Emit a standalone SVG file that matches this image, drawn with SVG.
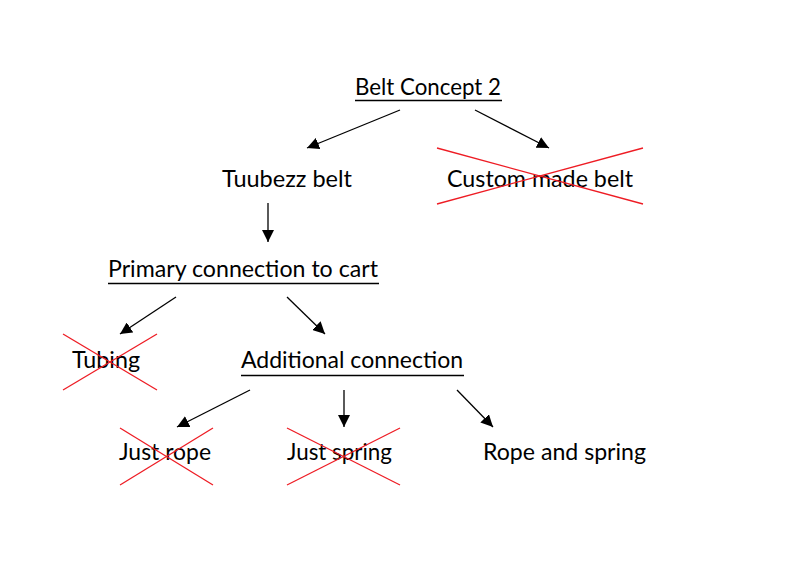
<svg xmlns="http://www.w3.org/2000/svg" width="800" height="571" viewBox="0 0 800 571">
<style>
text{font-family:Lato,"Open Sans","Liberation Sans",sans-serif;font-size:22.5px;fill:#000}
.u{stroke:#000;stroke-width:1.4}
.c{stroke:#000;stroke-width:1.3;fill:none;marker-end:url(#ah)}
.x{stroke:#ee1c24;stroke-width:1.3}
</style>
<defs>
<marker id="ah" viewBox="0 0 12 12" refX="12" refY="6" markerWidth="12" markerHeight="12" markerUnits="userSpaceOnUse" orient="auto">
<path d="M0,0 L12,6 L0,12 z" fill="#000"/>
</marker>
</defs>
<rect width="800" height="571" fill="#fff"/>
<g id="belt-concept-2">
<text x="355" y="95" textLength="146" lengthAdjust="spacingAndGlyphs">Belt Concept 2</text>
<line class="u" x1="355" y1="100.5" x2="502" y2="100.5"/>
</g>
<g id="tuubezz-belt">
<text x="222" y="187" textLength="130" lengthAdjust="spacingAndGlyphs">Tuubezz belt</text>
</g>
<g id="custom-made-belt">
<text x="447" y="187" textLength="186" lengthAdjust="spacingAndGlyphs">Custom made belt</text>
<line class="x" x1="437" y1="148" x2="643" y2="204"/>
<line class="x" x1="437" y1="204" x2="643" y2="148"/>
</g>
<g id="primary-connection">
<text x="108" y="277" textLength="270" lengthAdjust="spacingAndGlyphs">Primary connection to cart</text>
<line class="u" x1="108" y1="283.5" x2="379" y2="283.5"/>
</g>
<g id="tubing">
<text x="72" y="368" textLength="68" lengthAdjust="spacingAndGlyphs">Tubing</text>
<line class="x" x1="63" y1="334" x2="157" y2="390"/>
<line class="x" x1="63" y1="390" x2="157" y2="334"/>
</g>
<g id="additional-connection">
<text x="241" y="368" textLength="222" lengthAdjust="spacingAndGlyphs">Additional connection</text>
<line class="u" x1="241" y1="375.5" x2="464" y2="375.5"/>
</g>
<g id="just-rope">
<text x="119" y="460" textLength="92" lengthAdjust="spacingAndGlyphs">Just rope</text>
<line class="x" x1="120" y1="428" x2="213" y2="485"/>
<line class="x" x1="120" y1="485" x2="213" y2="428"/>
</g>
<g id="just-spring">
<text x="287" y="460" textLength="105" lengthAdjust="spacingAndGlyphs">Just spring</text>
<line class="x" x1="287" y1="428" x2="400" y2="485"/>
<line class="x" x1="287" y1="485" x2="400" y2="428"/>
</g>
<g id="rope-and-spring">
<text x="483" y="460" textLength="163" lengthAdjust="spacingAndGlyphs">Rope and spring</text>
</g>
<g id="connectors">
<line class="c" x1="400" y1="110" x2="307" y2="148"/>
<line class="c" x1="475" y1="110" x2="549" y2="148"/>
<line class="c" x1="268" y1="203" x2="268" y2="242"/>
<line class="c" x1="176" y1="297" x2="120" y2="334"/>
<line class="c" x1="287" y1="297" x2="325" y2="334"/>
<line class="c" x1="250" y1="390" x2="177" y2="427"/>
<line class="c" x1="344" y1="390" x2="344" y2="427"/>
<line class="c" x1="457" y1="390" x2="493" y2="427"/>
</g>
</svg>
